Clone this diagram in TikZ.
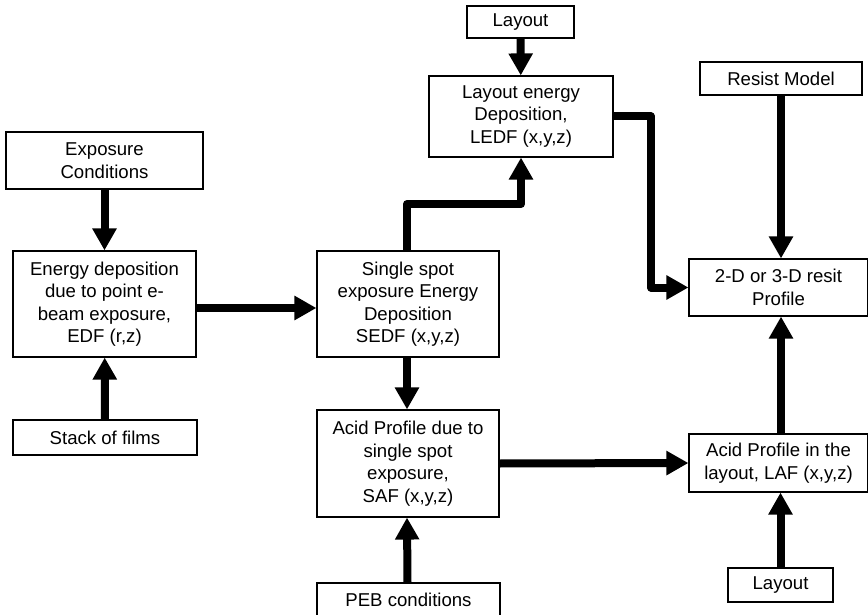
\documentclass[tikz,border=0pt]{standalone}
\usepackage{fontspec}
\setmainfont{Liberation Sans}
\usetikzlibrary{arrows.meta}

\tikzset{
  box/.style={draw, line width=1.1pt, rectangle, inner sep=0pt, align=center,
    font=\fontsize{18.6}{22.5}\selectfont},
  flow/.style={line width=8pt, line join=round, -{Triangle[length=22pt,width=23pt]}},
}

\begin{document}
\begin{tikzpicture}[x=1pt, y=-1pt]
    \useasboundingbox (0,0) rectangle (868,615);

    % left column
    \node[box, minimum width=197pt, minimum height=57pt] (expo) at (104.5,160.5) {Exposure\\Conditions};
    \node[box, minimum width=183pt, minimum height=106pt] (edf) at (104.5,304) {Energy deposition\\due to point e-\\beam exposure,\\EDF (r,z)};
    \node[box, minimum width=184pt, minimum height=35pt] (stack) at (105,437.5) {Stack of films};

    % middle column
    \node[box, minimum width=107pt, minimum height=32pt] (layouttop) at (520.5,22) {Layout};
    \node[box, minimum width=184pt, minimum height=81pt] (ledf) at (521,116.5) {Layout energy\\Deposition,\\LEDF (x,y,z)};
    \node[box, minimum width=182pt, minimum height=106pt] (sedf) at (408,304) {Single spot\\exposure Energy\\Deposition\\SEDF (x,y,z)};
    \node[box, minimum width=182pt, minimum height=107pt] (saf) at (408,463.5) {Acid Profile due to\\single spot\\exposure,\\SAF (x,y,z)};
    \node[box, minimum width=183pt, minimum height=34pt] (peb) at (408.5,600) {PEB conditions};

    % right column
    \node[box, minimum width=162pt, minimum height=33pt] (resist) at (781,78.5) {Resist Model};
    \node[box, minimum width=179pt, minimum height=57pt] (profile) at (778.5,287.5) {2-D or 3-D resit\\Profile};
    \node[box, minimum width=179pt, minimum height=58pt] (laf) at (778.5,463) {Acid Profile in the\\layout, LAF (x,y,z)};
    \node[box, minimum width=105pt, minimum height=34pt] (layoutbot) at (780.5,585) {Layout};

    \coordinate (elbowA) at (0,204);
    \coordinate (elbowB) at (651,0);

    \draw[flow] (expo) -- (edf);
    \draw[flow] (stack) -- (edf);
    \draw[flow] ([yshift=-4pt]edf.east) -- ([yshift=-4pt]sedf.west);
    \draw[flow] ([xshift=-1pt]sedf.north) -- ([xshift=-1pt]sedf.north |- elbowA) -| (ledf.south);
    \draw[flow] (layouttop) -- (ledf);
    \draw[flow] ([xshift=-1pt]sedf.south) -- ([xshift=-1pt]saf.north);
    \draw[flow] ([xshift=-1pt]peb.north) -- ([xshift=-1pt]saf.south);
    \draw[flow] (saf.east) -- (laf.west);
    \draw[flow] (ledf.east) -- (ledf.east -| elbowB) |- (profile.west);
    \draw[flow] (resist.south) -- (resist.south |- profile.north);
    \draw[flow] (laf.north -| resist.south) -- (profile.south -| resist.south);
    \draw[flow] (layoutbot.north) -- (layoutbot.north |- laf.south);
\end{tikzpicture}
\end{document}
